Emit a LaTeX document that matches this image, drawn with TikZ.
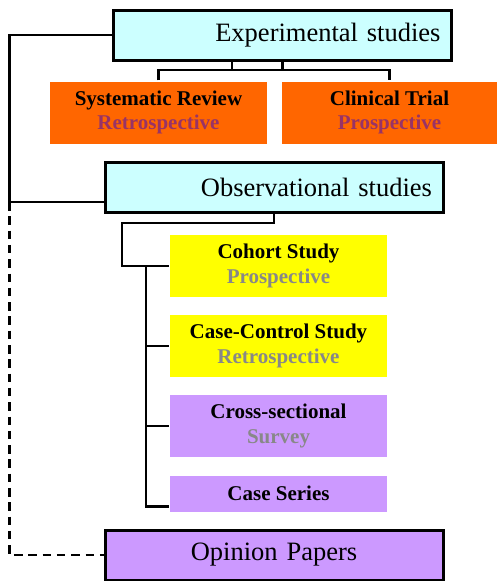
\documentclass[tikz,border=0pt]{standalone}
\usepackage{fontspec}
\setmainfont{Liberation Serif}
\definecolor{paleCyan}{HTML}{CCFFFF}
\definecolor{orangeBox}{HTML}{FF6600}
\definecolor{plumText}{HTML}{993366}
\definecolor{greyText}{HTML}{888888}
\definecolor{lemon}{HTML}{FFFF00}
\definecolor{lilac}{HTML}{CC99FF}
\begin{document}
\begin{tikzpicture}[x=1pt, y=-1pt, line width=2.3pt,
  head/.style={draw, line width=3pt, fill=paleCyan, minimum width=338pt,
    minimum height=50pt, inner xsep=11pt, text width=316pt,
    font=\fontsize{26.5}{30}\selectfont},
  study/.style={minimum width=217pt, minimum height=62pt, inner sep=0pt,
    align=center, font=\bfseries\fontsize{21}{24.5}\selectfont},
  twoline/.style={study, execute at begin node={\rule{0pt}{19.5pt}}},
  dashline/.style={dash pattern=on 8.5pt off 5.8pt}]
  \useasboundingbox (0,0) rectangle (496,581);

  % heads
  \node[head, align=right] (exp) at (282.5,35) {Experimental studies};
  \node[head, align=right] (obs) at (274,187) {Observational studies};
  \node[head, fill=lilac, align=center] (op) at (274,555) {Opinion Papers};

  % experimental
  \node[twoline, fill=orangeBox] (sr) at (158.5,112.5)
    {Systematic Review\\\textcolor{plumText}{Retrospective}};
  \node[twoline, fill=orangeBox, minimum width=215pt] (ct) at (389.5,112.5)
    {Clinical Trial\\\textcolor{plumText}{Prospective}};

  % observational
  \node[twoline, fill=lemon] (cohort) at (278.5,266)
    {Cohort Study\\\textcolor{greyText}{Prospective}};
  \node[twoline, fill=lemon] (cc) at (278.5,346)
    {Case-Control Study\\\textcolor{greyText}{Retrospective}};
  \node[twoline, fill=lilac] (cs) at (278.5,426)
    {Cross-sectional\\\textcolor{greyText}{Survey}};
  \node[study, fill=lilac, minimum height=36pt] (series) at (278.5,493.5)
    {Case Series};

  \coordinate (expbar) at (0,70);
  \coordinate (split) at (9.5,202);
  \coordinate (obsbar) at (122,223);
  \coordinate (spine) at (146,266);

  % connectors
  \draw (exp.south) -- (exp.south |- expbar);
  \draw ([xshift=-50.5pt]exp.south) -- ([xshift=-50.5pt]exp.south |- expbar);
  \draw (sr.north) |- (expbar -| ct.north) -- (ct.north);
  \draw (exp.west) -| (split) -- (split -| obs.west);
  \draw[dashline] (split) |- (op.west);
  \draw (obs.south) |- (obsbar) |- (cohort.west);
  \draw (spine) |- ([yshift=-13pt]series.west);
  \foreach \n in {cc,cs}
    \draw (spine |- \n.west) -- (\n.west);
\end{tikzpicture}
\end{document}
